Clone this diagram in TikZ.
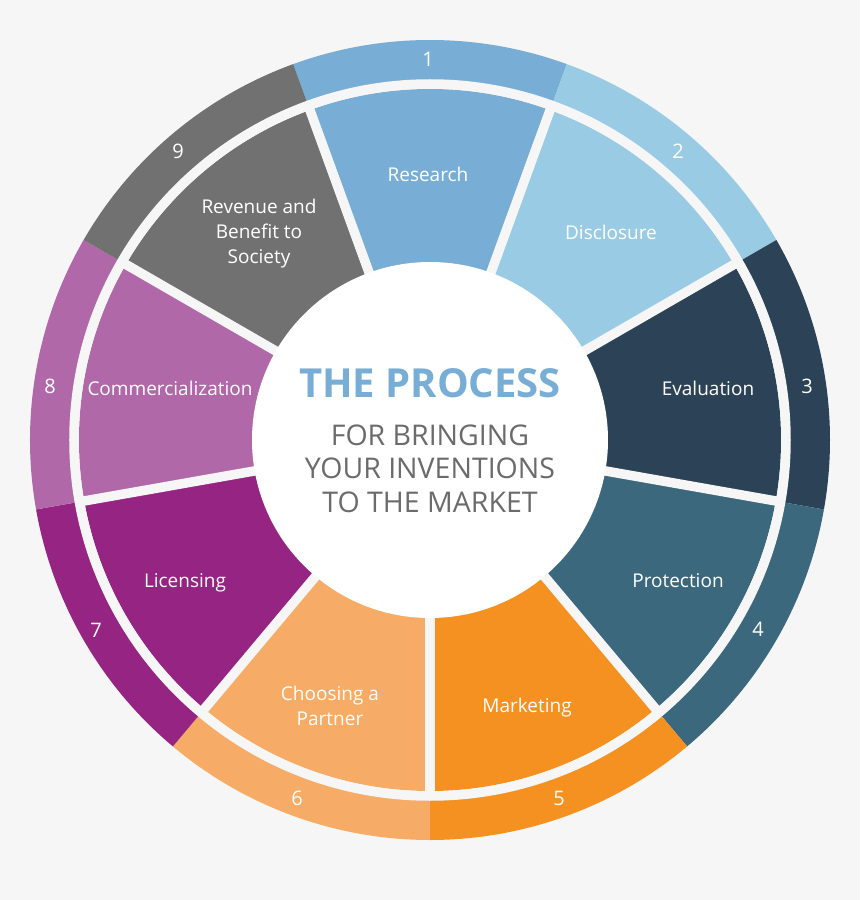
\documentclass[tikz,border=0pt]{standalone}
\usepackage{fontspec}
\setmainfont{Open Sans}
\definecolor{bg}{HTML}{F6F6F6}
\definecolor{cA}{HTML}{78AED6}
\definecolor{cB}{HTML}{99CCE4}
\definecolor{cC}{HTML}{2C4257}
\definecolor{cD}{HTML}{3C687E}
\definecolor{cE}{HTML}{F59120}
\definecolor{cF}{HTML}{F6AC66}
\definecolor{cG}{HTML}{952482}
\definecolor{cH}{HTML}{B168A9}
\definecolor{cI}{HTML}{717171}
\definecolor{titleblue}{HTML}{78AED6}
\definecolor{subgray}{HTML}{6B6B6B}
\begin{document}
\begin{tikzpicture}[x=1pt,y=1pt,
  lbl/.style={text=white, font=\fontsize{19}{25}\selectfont, anchor=base, inner sep=0pt, align=center},
  num/.style={text=white, font=\fontsize{20}{24}\selectfont, anchor=base, inner sep=0pt},
  gapline/.style={draw=bg, line width=9.5pt},
  title/.style={text=titleblue, font=\fontsize{40}{44}\selectfont\bfseries, anchor=base, inner sep=0pt},
  sub/.style={text=subgray, font=\fontsize{28.5}{33}\selectfont, anchor=base, inner sep=0pt}
]
\fill[bg] (-430,-460) rectangle (430,440);
\useasboundingbox (-430,-460) rectangle (430,440);
% segments and outer ring
\foreach \a/\c in {90/cA,50/cB,10/cC,-30/cD,-70/cE,-110/cF,-150/cG,170/cH,130/cI}{
  \fill[\c] (\a-20:360) arc[start angle=\a-20, end angle=\a+20, radius=360]
     -- (\a+20:400) arc[start angle=\a+20, end angle=\a-20, radius=400] -- cycle;
  \fill[\c] (0,0) -- (\a-20:351) arc[start angle=\a-20, end angle=\a+20, radius=351] -- cycle;
}
% gaps
\coordinate (ctr) at (0,0);
\foreach \b in {70,30,-10,-50,-90,-130,-170,150,110}{
  \draw[gapline] (ctr) -- (\b:352);
}
\draw[gapline] (ctr) circle[radius=356];
% hub
\node[circle, fill=white, minimum size=356pt, inner sep=0pt] (hub) at (ctr) {};
\node[title] (t1) at (0,42) {THE PROCESS};
\node[sub] (s1) at (0,-5) {FOR BRINGING};
\node[sub] (s2) at (0,-38) {YOUR INVENTIONS};
\node[sub] (s3) at (0,-72) {TO THE MARKET};
% labels
\node[lbl] (l1) at (-2,258) {Research};
\node[lbl] (l2) at (181,200) {Disclosure};
\node[lbl] (l3) at (278,45) {Evaluation};
\node[lbl] (l4) at (248,-147) {Protection};
\node[lbl] (l5) at (97,-272) {Marketing};
\node[lbl] (l6a) at (-100,-260) {Choosing a};
\node[lbl] (l6b) at (-100,-285) {Partner};
\node[lbl] (l7) at (-245,-147) {Licensing};
\node[lbl] (l8) at (-260,45) {Commercialization};
\node[lbl] (l9a) at (-171,226) {Revenue and};
\node[lbl] (l9b) at (-171,201) {Benefit to};
\node[lbl] (l9c) at (-171,176) {Society};
% numbers
\node[num] (n1) at (-2,373) {1};
\node[num] (n2) at (248,281) {2};
\node[num] (n3) at (377,46) {3};
\node[num] (n4) at (328,-196) {4};
\node[num] (n5) at (129,-365) {5};
\node[num] (n6) at (-133,-365) {6};
\node[num] (n7) at (-334,-197) {7};
\node[num] (n8) at (-380,46) {8};
\node[num] (n9) at (-252,281) {9};
\end{tikzpicture}
\end{document}
